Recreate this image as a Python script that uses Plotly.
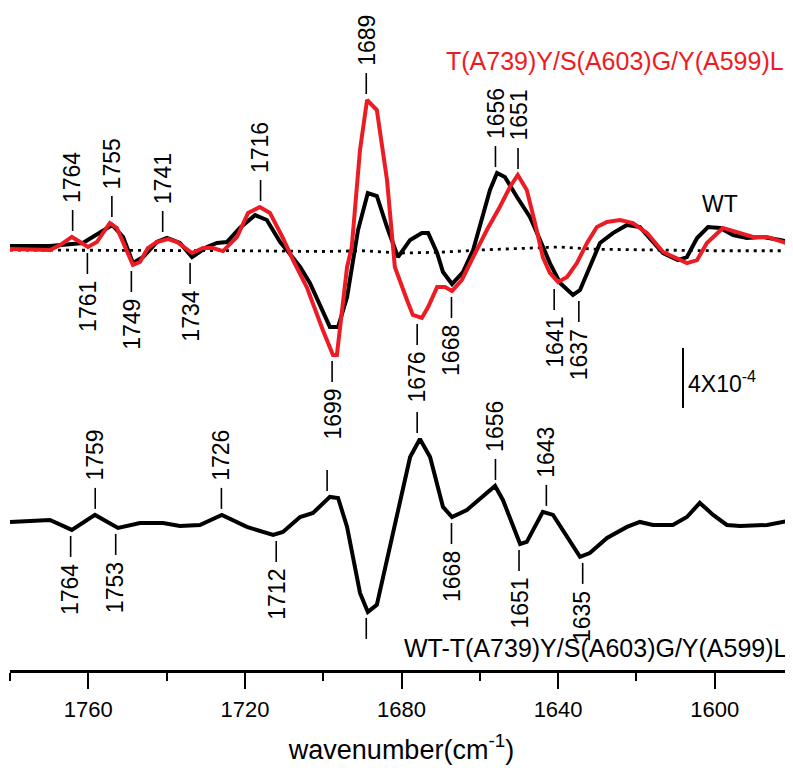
import numpy as np
import plotly.graph_objects as go

# ---------------- data (absorbance change, units of 1e-4) ----------------
wt_wn = [1780, 1769.8, 1761.4, 1757.0, 1753.9, 1751.1, 1748.6, 1746.0, 1742.5, 1739.9,
         1736.6, 1733.5, 1729.7, 1727.1, 1724.6, 1721.3, 1717.4, 1714.4, 1711.0, 1709.3,
         1705.9, 1703.4, 1700.1, 1698.3, 1696.2, 1693.9, 1691.1, 1688.6, 1686.3, 1683.7,
         1680.9, 1677.8, 1674.8, 1673.2, 1670.9, 1669.4, 1667.1, 1664.3, 1661.7, 1659.2,
         1657.4, 1655.6, 1653.6, 1650.5, 1647.2, 1644.6, 1642.1, 1639.5, 1636.2, 1634.4,
         1631.9, 1629.3, 1626.0, 1622.4, 1619.1, 1617.3, 1613.2, 1609.4, 1607.1, 1604.5,
         1601.7, 1598.6, 1595.3, 1591.8, 1587.7, 1583.3, 1580]
wt_val = [0.27, 0.27, 0.47, 1.2, 1.67, 0.87, -0.87, -0.47, 0.53, 0.8,
          0.47, -0.47, 0.2, 0.47, 0.53, 1.47, 2.33, 2.0, 0.53, 0.0,
          -1.13, -2.2, -4.2, -5.13, -5.13, -3.13, 1.33, 3.8, 3.6, 1.53,
          -0.47, 0.67, 1.13, 1.13, -0.2, -1.47, -2.27, -1.47, 0.0, 2.2,
          4.0, 5.13, 4.87, 3.53, 2.2, 0.67, -0.87, -2.2, -3.0, -2.67,
          -1.13, 0.47, 1.13, 1.67, 1.53, 1.0, -0.2, -0.67, -0.47, 0.8,
          1.53, 1.47, 1.0, 0.8, 0.87, 0.67, 0.47]

mut_wn = [1780, 1769.8, 1767.2, 1764.2, 1762.1, 1760.1, 1757.8, 1754.5, 1752.7, 1750.6,
          1748.6, 1746.8, 1744.8, 1742.5, 1739.6, 1737.3, 1733.5, 1730.7, 1728.2, 1725.6,
          1722.0, 1719.2, 1716.2, 1713.6, 1710.3, 1707.7, 1704.2, 1700.1, 1697.5, 1696.5,
          1693.9, 1692.7, 1690.6, 1688.8, 1686.3, 1683.7, 1681.7, 1678.6, 1677.1, 1674.8,
          1673.2, 1670.9, 1668.9, 1667.1, 1664.6, 1661.7, 1658.2, 1654.9, 1652.3, 1650.3,
          1648.0, 1645.9, 1643.9, 1642.1, 1640.0, 1637.7, 1635.2, 1632.6, 1630.1, 1627.5,
          1624.2, 1620.9, 1617.3, 1613.2, 1607.1, 1604.5, 1602.0, 1597.9, 1594.3, 1590.2,
          1586.6, 1582.6, 1580]
mut_val = [0.07, 0.0, 0.33, 0.87, 0.53, 0.2, 0.53, 1.8, 1.47, 0.2,
           -1.0, -0.8, 0.13, 0.53, 0.73, 0.53, -0.2, 0.13, 0.13, -0.07,
           0.87, 2.47, 2.87, 2.47, 0.8, -0.67, -2.47, -5.33, -7.0, -7.0,
           -1.13, 0.2, 6.67, 10.0, 9.33, 4.67, -1.13, -3.33, -4.33, -4.53,
           -3.8, -2.47, -2.47, -2.73, -2.0, -0.47, 1.33, 2.87, 4.2, 5.0,
           4.0, 1.8, -0.47, -1.53, -2.13, -1.8, -0.87, 0.47, 1.53, 1.87,
           2.0, 1.8, 1.13, -0.13, -0.87, -0.67, 0.47, 1.47, 1.2, 0.87,
           0.87, 0.53, 0.33]

base_wn = [1780, 1760, 1740, 1720, 1700, 1690, 1680, 1670, 1660, 1650, 1640, 1630, 1620, 1600, 1580]
base_val = [0.0, 0.0, 0.0, -0.05, -0.1, -0.05, -0.2, -0.15, 0.0, 0.1, 0.2, 0.05, 0.0, -0.05, -0.05]

diff_wn = [1780, 1769.8, 1764.2, 1758.3, 1752.4, 1746.8, 1740.9, 1736.6, 1731.5, 1725.9,
           1719.5, 1712.8, 1710.3, 1705.9, 1702.6, 1698.3, 1696.2, 1693.9, 1690.6, 1688.6,
           1686.3, 1682.2, 1677.8, 1675.3, 1672.7, 1669.4, 1667.1, 1663.3, 1659.2, 1656.1,
           1654.1, 1649.7, 1648.0, 1643.9, 1641.3, 1637.7, 1634.4, 1631.9, 1627.5, 1622.4,
           1619.1, 1615.8, 1610.7, 1607.1, 1603.8, 1600.4, 1596.9, 1593.5, 1586.6, 1580]
diff_val = [0.0, 0.13, -0.53, 0.47, -0.4, -0.07, -0.07, -0.27, -0.2, 0.47,
            -0.33, -0.87, -0.67, 0.33, 0.6, 1.67, 1.6, -0.33, -4.73, -6.0,
            -5.53, -0.73, 4.33, 5.53, 4.33, 1.0, 0.33, 0.8, 1.67, 2.4,
            1.47, -1.47, -1.33, 0.67, 0.47, -1.0, -2.33, -2.07, -1.07, -0.33,
            0.0, -0.2, -0.2, 0.33, 1.27, 0.47, -0.2, -0.27, -0.2, 0.13]

# band labels
top_peak_labels = [1764, 1755, 1741, 1716, 1689, 1656, 1651]
top_trough_labels = [1761, 1749, 1734, 1699, 1676, 1668, 1641, 1637]
diff_peak_labels = [1759, 1726, 1699, 1676, 1656, 1643]
diff_peak_text = ["1759", "1726", "", "", "1656", "1643"]
diff_trough_labels = [1764, 1753, 1712, 1689, 1668, 1651, 1635]
diff_trough_text = ["1764", "1753", "1712", "", "1668", "1651", "1635"]

x_ticks = [1760, 1720, 1680, 1640, 1600]
x_minor = [1780, 1740, 1700, 1660, 1620, 1580]

wt_name = "WT"
mut_name = "T(A739)Y/S(A603)G/Y(A599)L"
diff_name = "WT-T(A739)Y/S(A603)G/Y(A599)L"
scale_text = "4X10<sup>-4</sup>"
scale_len = 4

# ---------------- layout constants ----------------
# the page body adds an 8 px margin, so the figure is laid out 8 px up/left
W, H = 793, 772
ML, MR, MT, MB = 2, 8, 0, 110
PX_PER_UNIT = 15.0
Y_SPAN = (H - MT - MB) / PX_PER_UNIT
TOP_OFF = 28.0
DIFF_OFF = 9.87
RED = "#EC1C24"
FONT = "Liberation Sans, Arial, sans-serif"
LBL_SIZE = 23
GAP, DASH, NUM_SHIFT = 6, 21, 32

def shift(vals, off):
    return [v + off for v in vals]

fig = go.Figure()
fig.add_trace(go.Scatter(x=base_wn, y=shift(base_val, TOP_OFF), mode="lines",
                         line=dict(color="black", width=2.8, dash="3px,5px"),
                         showlegend=False, hoverinfo="skip"))
fig.add_trace(go.Scatter(x=wt_wn, y=shift(wt_val, TOP_OFF), mode="lines",
                         line=dict(color="black", width=4), name=wt_name, showlegend=False))
fig.add_trace(go.Scatter(x=mut_wn, y=shift(mut_val, TOP_OFF), mode="lines",
                         line=dict(color=RED, width=4), name=mut_name, showlegend=False))
fig.add_trace(go.Scatter(x=diff_wn, y=shift(diff_val, DIFF_OFF), mode="lines",
                         line=dict(color="black", width=4), name=diff_name, showlegend=False))

def extreme(curves, wn, up, half=1.5):
    xs = np.linspace(wn - half, wn + half, 31)
    vals = []
    for cx, cy in curves:
        ix = np.array(cx)[::-1]
        iy = np.array(cy)[::-1]
        vals.extend(np.interp(xs, ix, iy))
    return max(vals) if up else min(vals)

xnudge = {("top", 1755): 4, ("top", 1699): 5, ("top", 1637): 9, ("top", 1761): 3,
          ("top", 1668): 3, ("top", 1651): 3, ("diff", 1759): 3, ("diff", 1651): 4,
          ("diff", 1635): 5, ("diff", 1668): 3, ("diff", 1764): -2}

annotations = []
shapes = []

def add_label(tag, wn, text, yval, up):
    dx = xnudge.get((tag, wn), 0)
    sgn = 1 if up else -1
    shp = dict(type="line", xref="x", yref="y", ysizemode="pixel",
               yanchor=yval, x0=wn, x1=wn, y0=sgn * GAP, y1=sgn * (GAP + DASH),
               line=dict(color="black", width=1.6))
    if dx:
        shp.update(xsizemode="pixel", xanchor=wn, x0=dx, x1=dx)
    shapes.append(shp)
    if text:
        annotations.append(dict(x=wn, y=yval, xref="x", yref="y", text=text,
                                textangle=-90, showarrow=False,
                                xanchor="center", yanchor="bottom" if up else "top",
                                xshift=dx, yshift=sgn * NUM_SHIFT,
                                font=dict(family=FONT, size=LBL_SIZE, color="black")))

top_curves = [(wt_wn, wt_val), (mut_wn, mut_val)]
for wn in top_peak_labels:
    add_label("top", wn, str(wn), extreme(top_curves, wn, True) + TOP_OFF, True)
for wn in top_trough_labels:
    add_label("top", wn, str(wn), extreme(top_curves, wn, False) + TOP_OFF, False)
diff_curves = [(diff_wn, diff_val)]
for wn, t in zip(diff_peak_labels, diff_peak_text):
    add_label("diff", wn, t, extreme(diff_curves, wn, True) + DIFF_OFF, True)
for wn, t in zip(diff_trough_labels, diff_trough_text):
    add_label("diff", wn, t, extreme(diff_curves, wn, False) + DIFF_OFF, False)

# scale bar
bar_x = 1608.1
bar_top = TOP_OFF - 6.53
shapes.append(dict(type="line", xref="x", yref="y", x0=bar_x, x1=bar_x,
                   y0=bar_top - scale_len, y1=bar_top, line=dict(color="black", width=2)))
annotations.append(dict(x=bar_x, y=bar_top - scale_len / 2, xref="x", yref="y",
                        text=scale_text, showarrow=False, xanchor="left", yanchor="middle",
                        xshift=3, yshift=-4,
                        font=dict(family=FONT, size=LBL_SIZE, color="black")))

# curve names
annotations.append(dict(x=1598.6, y=TOP_OFF + 3.07, xref="x", yref="y", text=wt_name,
                        showarrow=False, xanchor="center", yanchor="middle",
                        font=dict(family=FONT, size=23, color="black")))
annotations.append(dict(x=1581.8, y=TOP_OFF + 12.6, xref="x", yref="y", text=mut_name,
                        showarrow=False, xanchor="right", yanchor="middle",
                        font=dict(family=FONT, size=25, color=RED)))
annotations.append(dict(x=1580.8, y=DIFF_OFF - 8.4, xref="x", yref="y", text=diff_name,
                        showarrow=False, xanchor="right", yanchor="middle",
                        font=dict(family=FONT, size=25, color="black")))

fig.update_layout(
    width=W, height=H,
    margin=dict(l=ML, r=MR, t=MT, b=MB, autoexpand=False),
    paper_bgcolor="white", plot_bgcolor="white",
    showlegend=False,
    font=dict(family=FONT, color="black"),
    xaxis=dict(range=[1780, 1580], showline=True, linecolor="black", linewidth=2.5,
               showgrid=False, zeroline=False, ticks="outside", ticklen=16, tickwidth=2,
               tickcolor="black", tickvals=x_ticks, ticktext=[str(t) for t in x_ticks],
               tickfont=dict(family=FONT, size=22, color="black"),
               ticklabelstandoff=2,
               minor=dict(ticks="outside", ticklen=8, tickwidth=2, tickcolor="black",
                          tickvals=x_minor, showgrid=False),
               title=dict(text="wavenumber(cm<sup>-1</sup>)", standoff=19,
                          font=dict(family=FONT, size=27, color="black"))),
    yaxis=dict(range=[0, Y_SPAN], visible=False, showgrid=False, zeroline=False),
    annotations=annotations,
    shapes=shapes,
)

fig.write_html("out.html")
